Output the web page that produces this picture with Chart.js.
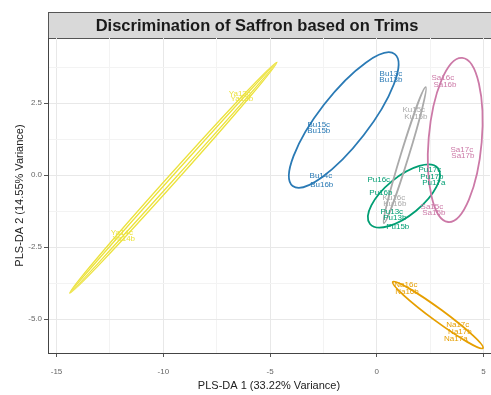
<!DOCTYPE html>
<html>
<head>
    <meta charset="utf-8">
    <title>Discrimination of Saffron based on Trims</title>
    <script src="https://cdn.jsdelivr.net/npm/chart.js"></script>
    <style>
        body { margin: 0; background: #fff; }
        #wrap { width: 491px; height: 395px; }
    </style>
</head>
<body>
    <div id="wrap">
        <canvas id="myChart"></canvas>
    </div>
    <script>
        // tick positions (major + minor grid), labels only on majors
        const xTicks = [-15, -12.5, -10, -7.5, -5, -2.5, 0, 2.5, 5];
        const yTicks = [-5, -3.75, -2.5, -1.25, 0, 1.25, 2.5, 3.75];

        // sample labels per group
        const buNames = ['Bu13c', 'Bu13b', 'Bu15c', 'Bu15b', 'Bu14c', 'Bu16b'];
        const buX = [0.66, 0.66, -2.72, -2.72, -2.62, -2.58];
        const buY = [3.51, 3.30, 1.74, 1.53, -0.04, -0.35];

        const puNames = ['Pu16c', 'Pu16b', 'Pu13c', 'Pu13b', 'Pu15b', 'Pu17c', 'Pu17b', 'Pu17a'];
        const puX = [0.09, 0.19, 0.70, 0.84, 0.98, 2.48, 2.58, 2.67];
        const puY = [-0.17, -0.63, -1.29, -1.49, -1.81, 0.17, -0.07, -0.28];

        const kuNames = ['Ku15c', 'Ku15b', 'Ku16c', 'Ku16b'];
        const kuX = [1.73, 1.83, 0.80, 0.84];
        const kuY = [2.26, 2.01, -0.80, -1.01];

        const saNames = ['Sa16c', 'Sa16b', 'Sa17c', 'Sa17b', 'Sa15c', 'Sa15b'];
        const saX = [3.09, 3.19, 3.98, 4.03, 2.58, 2.67];
        const saY = [3.37, 3.13, 0.87, 0.66, -1.11, -1.32];

        const naNames = ['Na16c', 'Na16b', 'Na17c', 'Na17b', 'Na17a'];
        const naX = [1.36, 1.41, 3.79, 3.89, 3.70];
        const naY = [-3.82, -4.06, -5.21, -5.45, -5.69];

        const yaNames = ['Ya13c', 'Ya13b', 'Ya14c', 'Ya14b'];
        const yaX = [-6.42, -6.32, -11.94, -11.85];
        const yaY = [2.81, 2.64, -2.01, -2.22];

        // confidence ellipses: centre and two conjugate half-axes (data units)
        const ellGroup = ['Bu', 'Pu', 'Ku', 'Sa', 'Na', 'Ya', 'Ya'];
        const ellCx = [-1.55, 1.27, 1.31, 3.67, 2.86, -9.53, -9.53];
        const ellCy = [1.91, -0.73, 0.69, 1.22, -4.86, -0.09, -0.09];
        const ellAx = [2.39, 1.59, 0.98, 0.33, 2.11, 4.85, 4.85];
        const ellAy = [2.29, 0.97, 2.36, 2.85, -1.15, 4.01, 4.01];
        const ellBx = [0.93, 0.57, 0.18, 1.24, -0.17, 0.15, 0.06];
        const ellBy = [-0.53, -0.51, -0.04, -0.08, -0.17, -0.10, -0.04];

        const colors = {
            Bu: '#2a7ab5', Pu: '#009e73', Ku: '#aaaaaa',
            Sa: '#cc79a7', Na: '#e69f00', Ya: '#ece23c'
        };

        function makeSet(key, names, xs, ys) {
            return {
                label: key,
                names: names,
                data: xs.map((x, i) => ({ x: x, y: ys[i] })),
                pointRadius: 0,
                color: colors[key]
            };
        }

        const datasets = [
            makeSet('Ya', yaNames, yaX, yaY),
            makeSet('Bu', buNames, buX, buY),
            makeSet('Ku', kuNames, kuX, kuY),
            makeSet('Sa', saNames, saX, saY),
            makeSet('Pu', puNames, puX, puY),
            makeSet('Na', naNames, naX, naY)
        ];

        const stripPlugin = {
            id: 'strip',
            beforeDraw(chart) {
                const c = chart.ctx;
                const a = chart.chartArea;
                c.save();
                c.fillStyle = '#d9d9d9';
                c.fillRect(a.left, 12, chart.width - a.left, a.top - 12);
                c.strokeStyle = '#555';
                c.lineWidth = 1;
                c.strokeRect(a.left + 0.5, 12.5, chart.width - a.left, a.top - 12);
                c.fillStyle = '#1a1a1a';
                c.font = 'bold 16.5px "Liberation Sans", Arial, sans-serif';
                c.textAlign = 'center';
                c.textBaseline = 'middle';
                c.fillText('Discrimination of Saffron based on Trims', 257, 26);
                c.restore();
            }
        };

        const ellipsePlugin = {
            id: 'ellipses',
            afterDatasetsDraw(chart) {
                const c = chart.ctx;
                const xs = chart.scales.x, ys = chart.scales.y;
                const a = chart.chartArea;
                c.save();
                c.beginPath();
                c.rect(a.left, a.top, a.right - a.left, a.bottom - a.top);
                c.clip();
                ellGroup.forEach((g, i) => {
                    const cx = xs.getPixelForValue(ellCx[i]);
                    const cy = ys.getPixelForValue(ellCy[i]);
                    const ax = xs.getPixelForValue(ellCx[i] + ellAx[i]) - cx;
                    const ay = ys.getPixelForValue(ellCy[i] + ellAy[i]) - cy;
                    const bx = xs.getPixelForValue(ellCx[i] + ellBx[i]) - cx;
                    const by = ys.getPixelForValue(ellCy[i] + ellBy[i]) - cy;
                    c.save();
                    c.beginPath();
                    c.transform(ax, ay, bx, by, cx, cy);
                    c.arc(0, 0, 1, 0, Math.PI * 2);
                    c.restore();
                    c.strokeStyle = colors[g];
                    c.lineWidth = g === 'Ya' ? 1.3 : 1.8;
                    c.stroke();
                });

                // sample names
                c.font = '8px "Liberation Sans", Arial, sans-serif';
                c.textAlign = 'center';
                c.textBaseline = 'middle';
                chart.data.datasets.forEach((ds, di) => {
                    const meta = chart.getDatasetMeta(di);
                    c.fillStyle = ds.color;
                    meta.data.forEach((pt, j) => {
                        c.fillText(ds.names[j], pt.x, pt.y);
                    });
                });
                c.restore();
            }
        };

        const isMajorX = v => Math.abs(v % 5) < 1e-9;
        const isMajorY = v => Math.abs(v % 2.5) < 1e-9;
        const tickFont = { family: '"Liberation Sans", Arial, sans-serif', size: 8 };

        const ctx = document.getElementById('myChart').getContext('2d');
        const myChart = new Chart(ctx, {
            type: 'scatter',
            data: { datasets: datasets },
            options: {
                responsive: true,
                maintainAspectRatio: false,
                animation: false,
                layout: { padding: { top: 38, right: 1, left: 0, bottom: 0 } },
                plugins: {
                    legend: { display: false },
                    tooltip: { enabled: false }
                },
                scales: {
                    x: {
                        type: 'linear',
                        min: -15.4,
                        max: 5.3,
                        afterBuildTicks: s => { s.ticks = xTicks.map(v => ({ value: v })); },
                        afterFit: s => { s.height = 42; s.paddingLeft = 0; s.paddingRight = 0; },
                        border: { color: '#444', width: 1 },
                        grid: {
                            color: c => isMajorX(c.tick.value) ? '#e8e8e8' : '#f3f3f3',
                            tickColor: c => isMajorX(c.tick.value) ? '#555' : 'rgba(0,0,0,0)',
                            tickLength: 4
                        },
                        ticks: {
                            autoSkip: false,
                            maxRotation: 0,
                            padding: 10,
                            color: '#666',
                            font: tickFont,
                            callback: v => isMajorX(v) ? String(v) : ''
                        },
                        title: {
                            display: true,
                            text: 'PLS-DA 1 (33.22% Variance)',
                            color: '#222',
                            font: { family: '"Liberation Sans", Arial, sans-serif', size: 11 },
                            padding: { top: 2, bottom: 2 }
                        }
                    },
                    y: {
                        type: 'linear',
                        min: -6.18,
                        max: 4.76,
                        afterBuildTicks: s => { s.ticks = yTicks.map(v => ({ value: v })); },
                        afterFit: s => { s.width = 48; s.paddingTop = 0; s.paddingBottom = 0; },
                        border: { color: '#444', width: 1 },
                        grid: {
                            color: c => isMajorY(c.tick.value) ? '#e8e8e8' : '#f3f3f3',
                            tickColor: c => isMajorY(c.tick.value) ? '#555' : 'rgba(0,0,0,0)',
                            tickLength: 4
                        },
                        ticks: {
                            autoSkip: false,
                            padding: 2,
                            color: '#666',
                            font: tickFont,
                            callback: v => isMajorY(v) ? v.toFixed(1) : ''
                        },
                        title: {
                            display: true,
                            text: 'PLS-DA 2 (14.55% Variance)',
                            color: '#222',
                            font: { family: '"Liberation Sans", Arial, sans-serif', size: 11 },
                            padding: { top: 13, bottom: 0 }
                        }
                    }
                }
            },
            plugins: [stripPlugin, ellipsePlugin]
        });
    </script>
</body>
</html>
